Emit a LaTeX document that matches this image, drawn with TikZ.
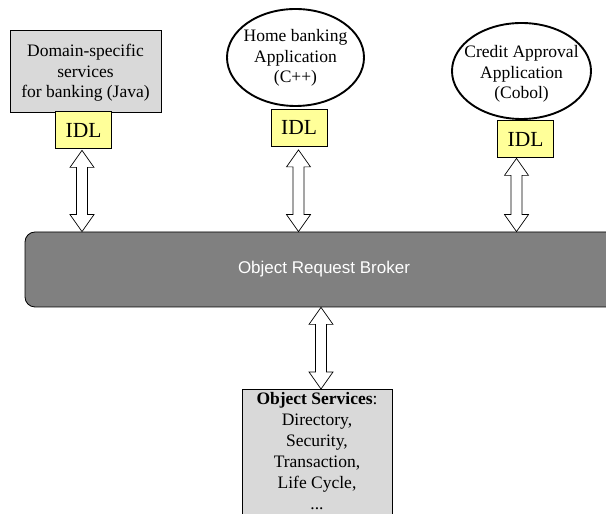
\documentclass[tikz,border=0pt]{standalone}
\usepackage{fontspec}
\setmainfont{Liberation Serif}
\newfontfamily\orbfont{Liberation Sans}
\usetikzlibrary{shapes.geometric,calc}
\definecolor{boxgray}{HTML}{D9D9D9}
\definecolor{orbgray}{HTML}{808080}
\definecolor{idlyellow}{HTML}{FFFF99}
\tikzset{
  graybox/.style={draw=black, fill=boxgray, line width=0.8pt, inner sep=0pt},
  idlbox/.style={draw=black, fill=idlyellow, line width=0.8pt, minimum width=56pt, minimum height=37pt, inner sep=0pt, font=\fontsize{21.5}{24}\selectfont},
  appell/.style={ellipse, draw=black, line width=1.9pt, inner sep=0pt},
  bodytext/.style={align=center, inner sep=0pt, font=\fontsize{17.5}{20.5}\selectfont},
  hollowarrow/.style={draw=black, fill=white, line width=0.7pt, line join=miter},
}
\newcommand{\dblarrow}[2]{%
  \path[hollowarrow] let \p1=(#1), \p2=(#2) in
    (\x1,\y1) -- (\x1+12pt,\y1-17pt) -- (\x1+5.5pt,\y1-17pt) -- (\x1+5.5pt,\y2+17pt)
    -- (\x1+12pt,\y2+17pt) -- (\x1,\y2) -- (\x1-12pt,\y2+17pt) -- (\x1-5.5pt,\y2+17pt)
    -- (\x1-5.5pt,\y1-17pt) -- (\x1-12pt,\y1-17pt) -- cycle;%
}
\begin{document}
\begin{tikzpicture}[x=1pt,y=1pt]
\useasboundingbox (0,0) rectangle (606,514);
\clip (0,0) rectangle (606,514);
\fill[white] (0,0) rectangle (606,514);

% Domain-specific services
\node[graybox, minimum width=151pt, minimum height=82pt] (dom) at (85.5,443) {};
\node[bodytext] (domtxt) at (85.5,441) {Domain-specific\\services\\for banking (Java)};
\node[idlbox] (idl1) at (83.5,384) {IDL};

% Home banking application
\node[appell, minimum width=137pt, minimum height=97pt] (app1) at (295.5,456.5) {};
\node[bodytext] (app1txt) at (295.5,456) {Home banking\\Application\\(C++)};
\node[idlbox] (idl2) at (299,386.5) {IDL};

% Credit approval application
\node[appell, minimum width=139pt, minimum height=96pt] (app2) at (521.5,443) {};
\node[bodytext] (app2txt) at (521.5,440) {Credit Approval\\Application\\(Cobol)};
\node[idlbox] (idl3) at (525.5,375) {IDL};

% ORB
\node[draw=black, fill=orbgray, line width=0.8pt, rounded corners=10pt, minimum width=598pt, minimum height=75pt, inner sep=0pt] (orb) at (324,244.5) {};
\node[text=white, inner sep=0pt, font=\orbfont\fontsize{17}{20}\selectfont] (orbtxt) at (324,245) {Object Request Broker};

% Object services
\node[graybox, minimum width=150pt, minimum height=160pt, anchor=north] (os) at (317,125) {};
\node[bodytext, anchor=north, font=\fontsize{17.5}{21}\selectfont] (ostxt) at (317,122) {\textbf{Object Services}:\\Directory,\\Security,\\Transaction,\\Life Cycle,\\...};

% connectors
\coordinate (a1t) at ($(idl1.south)+(-1.5,-1.5)$);
\coordinate (a1b) at (a1t |- orb.north);
\coordinate (a2t) at ($(idl2.south)+(-0.5,-3.5)$);
\coordinate (a2b) at (a2t |- orb.north);
\coordinate (a3t) at ($(idl3.south)+(-9,-0.5)$);
\coordinate (a3b) at (a3t |- orb.north);
\coordinate (a4t) at ($(orb.south)+(-3,0)$);
\coordinate (a4b) at (a4t |- os.north);
\dblarrow{a1t}{a1b}
\dblarrow{a2t}{a2b}
\dblarrow{a3t}{a3b}
\dblarrow{a4t}{a4b}
\end{tikzpicture}
\end{document}
